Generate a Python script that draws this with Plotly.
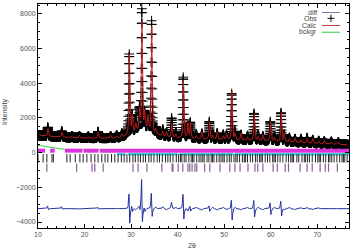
import numpy as np
import plotly.graph_objects as go

# ---------------- data ----------------
two_theta_range = [10.0, 76.8]
step = 0.025

peak_pos = [12.1, 15.1, 17.3, 18.9, 20.8, 22.9, 25.6, 26.9, 28.0, 29.6, 30.2, 31.0, 31.8,
            32.3, 32.9, 33.6, 34.4, 35.3, 36.8, 37.6, 38.7, 39.6, 41.2, 42.2, 42.7, 44.0,
            45.2, 46.8, 47.5, 48.5, 49.8, 50.5, 51.6, 52.3, 53.6, 55.0, 56.4, 57.3, 58.3,
            59.9, 60.8, 62.2, 62.9, 64.0, 65.2, 66.5, 67.8, 69.0, 70.3, 71.5, 73.0, 74.5]
peak_height = [520, 350, 90, 110, 100, 380, 130, 160, 220, 4600, 950, 350, 1100,
               6900, 900, 800, 6400, 350, 380, 220, 1100, 280, 3500, 700, 900, 250,
               300, 1000, 300, 350, 280, 250, 2650, 450, 300, 250, 1550, 300, 250,
               1100, 280, 1650, 380, 250, 200, 220, 300, 200, 160, 150, 150, 120]
calc_shift = [0.04, 0.04, 0, 0, 0, 0.03, 0, 0, 0, 0.035, 0.03, 0, 0.02,
              0.035, 0.02, 0, 0.02, 0, 0, 0, 0.02, 0, 0.04, 0, 0.03, 0,
              0, 0.03, 0, 0, 0, 0, 0.04, 0, 0, 0, 0.06, 0, 0,
              0.06, 0, 0.05, 0, 0, 0, 0, 0.03, 0, 0, 0, 0, 0]
calc_scale = [0.85, 0.8, 0.6, 1.3, 0.7, 0.9, 1.3, 0.7, 0.8, 1.0, 1.0, 1.2, 1,
              0.9, 1.1, 1, 0.95, 0.7, 0.7, 1.3, 0.7, 0.7, 0.95, 1.2, 1, 0.6,
              1.3, 1, 0.7, 1.25, 0.7, 1.3, 1.05, 0.8, 1.3, 0.7, 1.0, 0.7, 1.3,
              1.0, 0.7, 1.0, 1.2, 0.7, 1.3, 0.75, 0.8, 1.3, 0.7, 1.2, 0.8, 1.2]
peak_fwhm = 0.25

baseline_x = [10, 12, 15, 18, 22, 26, 28, 30, 31.5, 33, 35, 37, 40, 45, 50, 55, 60, 65, 70, 76.8]
baseline_y = [1000, 950, 900, 860, 830, 830, 880, 1100, 1300, 1350, 1100, 930, 850, 800, 760, 720, 680, 600, 530, 450]

bkg_x = [10, 12, 14, 16, 22, 30, 40, 50, 60, 76.8]
bkg_y = [420, 330, 260, 160, 150, 170, 150, 140, 130, 110]

diff_offset = -3230

magenta_start = [10.0, 12.6, 15.8, 19.8, 23.3]
magenta_end = [11.5, 13.6, 19.5, 23.0, 76.8]
cyan_start = [27.0, 29.3, 40.4, 52.3]
cyan_end = [28.8, 40.0, 52.0, 76.8]
black_ticks = [10.0, 11.1, 11.9, 13.0, 13.3, 16.2, 16.9, 18.0, 19.0, 19.7, 20.5, 21.4, 22.2,
               22.9, 23.7, 24.4, 25.0, 25.8, 26.5, 27.2, 27.9, 28.5, 29.1, 29.7, 30.4, 30.9,
               31.5, 32.0, 32.6, 33.1, 33.8, 34.3, 34.9, 35.6, 36.1, 36.7, 37.4, 37.9, 38.4,
               39.0, 39.7, 40.2, 40.6, 40.9, 41.4, 41.8, 42.4, 42.9, 43.2, 43.5, 44.1, 44.6,
               45.0, 45.4, 45.7, 46.3, 46.7, 47.2, 47.5, 47.8, 48.4, 48.9, 49.3, 49.7, 50.0,
               50.6, 51.1, 51.5, 52.1, 52.5, 52.8, 53.3, 53.9, 54.3, 54.6, 55.0, 55.6, 56.1,
               56.7, 57.1, 57.6, 57.9, 58.2, 58.8, 59.3, 59.8, 60.4, 60.7, 61.0, 61.5, 62.0,
               62.6, 63.3, 63.8, 64.3, 64.6, 64.9, 65.6, 66.0, 66.7, 67.2, 67.5, 67.9, 68.3,
               68.9, 69.6, 70.1, 70.4, 70.7, 71.3, 71.8, 72.4, 72.7, 73.1, 73.6, 74.2, 74.8,
               75.3, 75.6, 75.9, 76.4]
purple_ticks = [11.9, 18.3, 21.6, 22.2, 24.0, 30.4, 31.5, 33.4, 36.6, 38.8, 39.0, 40.1, 41.1,
                42.2, 42.6, 43.1, 43.7, 44.1, 45.8, 46.9, 49.1, 51.2, 52.3, 53.4, 55.1, 56.6,
                57.2, 58.3, 60.5, 61.4, 63.1, 63.8, 66.3, 67.8, 68.9, 70.6, 71.7, 72.4, 74.3]
row_levels = {"magenta": 115, "cyan": -90, "black": -320, "purple": -860}

y_range = [-4345, 8575]

# ---------------- profile model ----------------
x = np.arange(two_theta_range[0], two_theta_range[1] + 1e-9, step)


def pv(xx, pos, h, fw, eta=0.5):
    d = (xx - pos) / fw
    return h * (eta / (1 + 4 * d * d) + (1 - eta) * np.exp(-4 * np.log(2) * d * d))


base = np.interp(x, baseline_x, baseline_y)
bkg = np.interp(x, bkg_x, bkg_y)
obs = base.copy()
calc = base.copy()
for p, h, s, k in zip(peak_pos, peak_height, calc_shift, calc_scale):
    obs += pv(x, p, h, peak_fwhm)
    calc += pv(x, p + s, h * k, peak_fwhm)
diff = obs - calc + diff_offset


def segs(starts, ends, level):
    xs, ys = [], []
    for s, e in zip(starts, ends):
        xs += [s, e, None]
        ys += [level, level, None]
    return xs, ys


fig = go.Figure()
fig.add_trace(go.Scatter(x=x, y=diff, mode="lines", line=dict(color="#22309a", width=1), name="diff"))
fig.add_trace(go.Scatter(x=x, y=obs, mode="markers", name="Obs",
                         marker=dict(symbol="cross-thin", size=7, line=dict(color="black", width=1))))
fig.add_trace(go.Scatter(x=x, y=calc, mode="lines", line=dict(color="#c81e1e", width=0.9), name="Calc"))
fig.add_trace(go.Scatter(x=x, y=bkg, mode="lines", line=dict(color="#3cc84a", width=1), name="bckgr"))

mx, my = segs(magenta_start, magenta_end, row_levels["magenta"])
fig.add_trace(go.Scatter(x=mx, y=my, mode="lines", line=dict(color="#dd33dd", width=4)))
cx, cy = segs(cyan_start, cyan_end, row_levels["cyan"])
fig.add_trace(go.Scatter(x=cx, y=cy, mode="lines", line=dict(color="#40d4dc", width=2.5)))
fig.add_trace(go.Scatter(x=black_ticks, y=[row_levels["black"]] * len(black_ticks), mode="markers",
                         marker=dict(symbol="line-ns", size=6, line=dict(color="#222222", width=1))))
fig.add_trace(go.Scatter(x=purple_ticks, y=[row_levels["purple"]] * len(purple_ticks), mode="markers",
                         marker=dict(symbol="line-ns", size=6, line=dict(color="#8a5c96", width=1.2))))

axis_common = dict(showline=True, linecolor="black", linewidth=1, mirror="allticks",
                   ticks="inside", ticklen=4, tickcolor="black", showgrid=False, zeroline=False,
                   tickfont=dict(family="Liberation Sans, Arial", size=7, color="#555"))
fig.update_xaxes(range=two_theta_range, tick0=10, dtick=10,
                 minor=dict(ticks="inside", ticklen=2, dtick=2, tickcolor="black"), **axis_common)
fig.update_yaxes(range=y_range, tick0=0, dtick=2000,
                 minor=dict(ticks="inside", ticklen=2, dtick=500, tickcolor="black"), **axis_common)

fig.update_layout(width=360, height=250, margin=dict(l=38, r=11, t=4, b=22),
                  paper_bgcolor="white", plot_bgcolor="white", showlegend=False)

font = dict(family="Liberation Sans, Arial", size=7, color="#444")
fig.add_annotation(text="Intensity", xref="paper", yref="paper", x=-0.106, y=0.518,
                   xanchor="center", yanchor="middle", textangle=-90, showarrow=False, font=font)
fig.add_annotation(text="2θ", xref="paper", yref="paper", x=0.495, y=-0.08,
                   xanchor="center", yanchor="middle", showarrow=False, font=font)

# custom legend (text left of sample)
leg_names = ["diff", "Obs", "Calc", "bckgr"]
leg_y = [0.962, 0.936, 0.904, 0.874]
leg_colors = ["#7a7f9a", "black", "#c84040", "#3cc84a"]
for name, ly, col in zip(leg_names, leg_y, leg_colors):
    fig.add_annotation(text=name, xref="paper", yref="paper", x=0.905, y=ly, xanchor="right",
                       yanchor="middle", showarrow=False, font=font)
    if name == "Obs":
        fig.add_shape(type="line", xref="paper", yref="paper", x0=0.931, x1=0.953, y0=ly, y1=ly,
                      line=dict(color=col, width=1))
        fig.add_shape(type="line", xref="paper", yref="paper", x0=0.942, x1=0.942, y0=ly - 0.016,
                      y1=ly + 0.016, line=dict(color=col, width=1))
    else:
        fig.add_shape(type="line", xref="paper", yref="paper", x0=0.913, x1=0.971, y0=ly, y1=ly,
                      line=dict(color=col, width=1))

fig.write_html("out.html")
